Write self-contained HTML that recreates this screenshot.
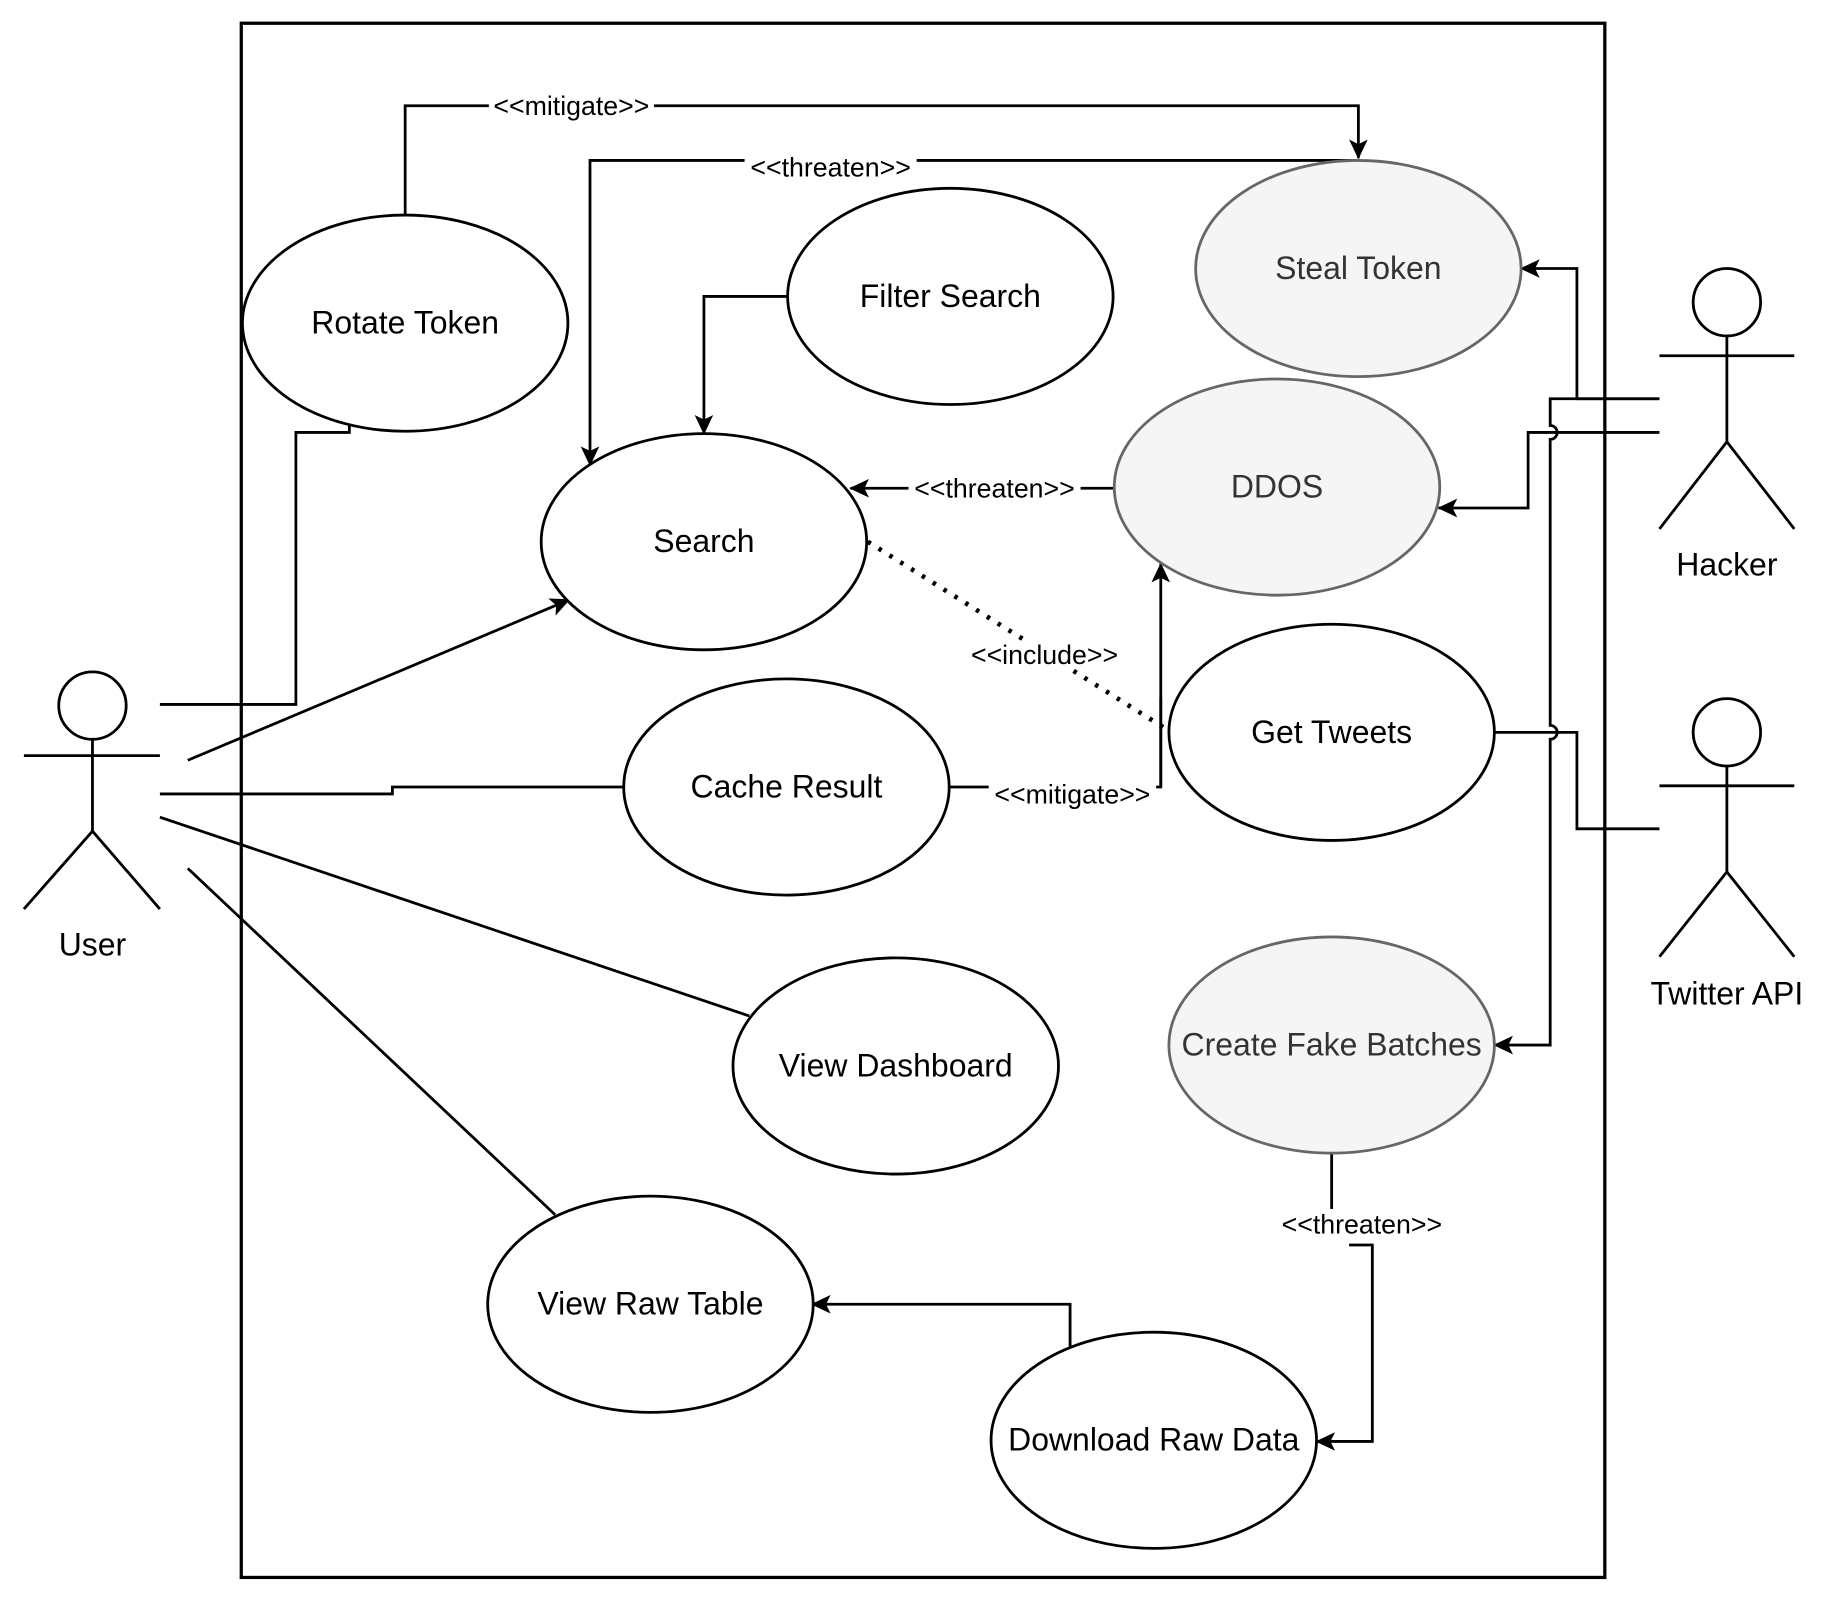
<!DOCTYPE html>
<html><head><meta charset="utf-8"><style>
html,body{margin:0;padding:0;background:#fff;}
svg{display:block;}
text{font-family:"Liberation Sans",sans-serif;}
</style></head><body>
<svg width="1824" height="1610" viewBox="0 0 1568 1385" xmlns="http://www.w3.org/2000/svg">
<defs>
<marker id="a" markerWidth="18" markerHeight="16" refX="16" refY="8" orient="auto" markerUnits="userSpaceOnUse">
<path d="M0,0 L17,8 L0,16 L4,8 Z" fill="#000"/>
</marker>
</defs>
<rect x="0" y="0" width="1568" height="1385" fill="#fff"/>
<rect x="207" y="20" width="1173" height="1337" fill="none" stroke="#000" stroke-width="2.8"/>

<g fill="none" stroke="#000" stroke-width="2.4">
<polyline points="348,185 348,91 1168,91 1168,136" marker-end="url(#a)"/>
<polyline points="1168,138 507,138 507,400" marker-end="url(#a)"/>
<polyline points="677,255 605,255 605,373" marker-end="url(#a)"/>
<polyline points="958,420 731,420" marker-end="url(#a)"/>
<line x1="746" y1="466" x2="1004" y2="628" stroke-dasharray="3,8" stroke-width="4"/>
<polyline points="817,677 998,677 998,485" marker-end="url(#a)"/>
<polyline points="137,606 254,606 254,372 300,372 300,364"/>
<polyline points="161,654 489,516" marker-end="url(#a)"/>
<polyline points="137,683 337,683 337,677 536,677"/>
<line x1="137" y1="703" x2="644" y2="874"/>
<line x1="161" y1="747" x2="477" y2="1045"/>
<polyline points="1427,343 1356,343 1356,231 1308,231" marker-end="url(#a)"/>
<polyline points="1427,372 1314,372 1314,437 1237,437" marker-end="url(#a)"/>
<path d="M1427,343 L1333,343 L1333,366 A6,6 0 0 1 1333,378 L1333,624 A6,6 0 0 1 1333,636 L1333,899 L1285,899" marker-end="url(#a)"/>
<polyline points="1285,630 1356,630 1356,713 1427,713"/>
<polyline points="1145,993 1145,1040"/>
<polyline points="1160,1071 1180,1071 1180,1240 1132,1240" marker-end="url(#a)"/>
<polyline points="920,1160 920,1122 698,1122" marker-end="url(#a)"/>
<line x1="998" y1="600" x2="998" y2="677"/>
</g>

<g stroke-width="2.4">
<ellipse cx="348" cy="278" rx="140" ry="93" fill="#fff" stroke="#000"/>
<ellipse cx="817" cy="255" rx="140" ry="93" fill="#fff" stroke="#000"/>
<ellipse cx="1168" cy="231" rx="140" ry="93" fill="#f5f5f5" stroke="#666"/>
<ellipse cx="605" cy="466" rx="140" ry="93" fill="#fff" stroke="#000"/>
<ellipse cx="1098" cy="419" rx="140" ry="93" fill="#f5f5f5" stroke="#666"/>
<ellipse cx="1145" cy="630" rx="140" ry="93" fill="#fff" stroke="#000"/>
<ellipse cx="676" cy="677" rx="140" ry="93" fill="#fff" stroke="#000"/>
<ellipse cx="770" cy="917" rx="140" ry="93" fill="#fff" stroke="#000"/>
<ellipse cx="1145" cy="899" rx="140" ry="93" fill="#f5f5f5" stroke="#666"/>
<ellipse cx="559" cy="1122" rx="140" ry="93" fill="#fff" stroke="#000"/>
<ellipse cx="992" cy="1239" rx="140" ry="93" fill="#fff" stroke="#000"/>
</g>

<g font-size="27.5" text-anchor="middle" fill="#000">
<text x="348" y="287">Rotate Token</text>
<text x="817" y="264">Filter Search</text>
<text x="1168" y="240" fill="#333">Steal Token</text>
<text x="605" y="475">Search</text>
<text x="1098" y="428" fill="#333">DDOS</text>
<text x="1145" y="639">Get Tweets</text>
<text x="676" y="686">Cache Result</text>
<text x="770" y="926">View Dashboard</text>
<text x="1145" y="908" fill="#333">Create Fake Batches</text>
<text x="559" y="1131">View Raw Table</text>
<text x="992" y="1248">Download Raw Data</text>
<text x="79" y="822">User</text>
<text x="1485" y="495">Hacker</text>
<text x="1485" y="864">Twitter API</text>
</g>

<g font-size="23" text-anchor="middle">
<rect x="420" y="79" width="142" height="24" fill="#fff"/>
<text x="491" y="99">&lt;&lt;mitigate&gt;&gt;</text>
<rect x="640" y="132" width="148" height="24" fill="#fff"/>
<text x="714" y="152">&lt;&lt;threaten&gt;&gt;</text>
<rect x="781" y="408" width="148" height="24" fill="#fff"/>
<text x="855" y="428">&lt;&lt;threaten&gt;&gt;</text>
<rect x="830" y="551" width="136" height="24" fill="#fff"/>
<text x="898" y="571">&lt;&lt;include&gt;&gt;</text>
<rect x="850" y="671" width="144" height="24" fill="#fff"/>
<text x="922" y="691">&lt;&lt;mitigate&gt;&gt;</text>
<rect x="1095" y="1041" width="152" height="24" fill="#fff"/>
<text x="1171" y="1061">&lt;&lt;threaten&gt;&gt;</text>
</g>

<g fill="none" stroke="#000" stroke-width="2.4">
<circle cx="79" cy="607" r="29" fill="#fff"/>
<line x1="79" y1="636" x2="79" y2="715"/>
<line x1="20" y1="650" x2="137" y2="650"/>
<polyline points="20,782 79,715 137,782"/>
<circle cx="1485" cy="260" r="29" fill="#fff"/>
<line x1="1485" y1="289" x2="1485" y2="380"/>
<line x1="1427" y1="306" x2="1543" y2="306"/>
<polyline points="1427,455 1485,380 1543,455"/>
<circle cx="1485" cy="630" r="29" fill="#fff"/>
<line x1="1485" y1="659" x2="1485" y2="750"/>
<line x1="1427" y1="676" x2="1543" y2="676"/>
<polyline points="1427,823 1485,750 1543,823"/>
</g>
</svg>
</body></html>
